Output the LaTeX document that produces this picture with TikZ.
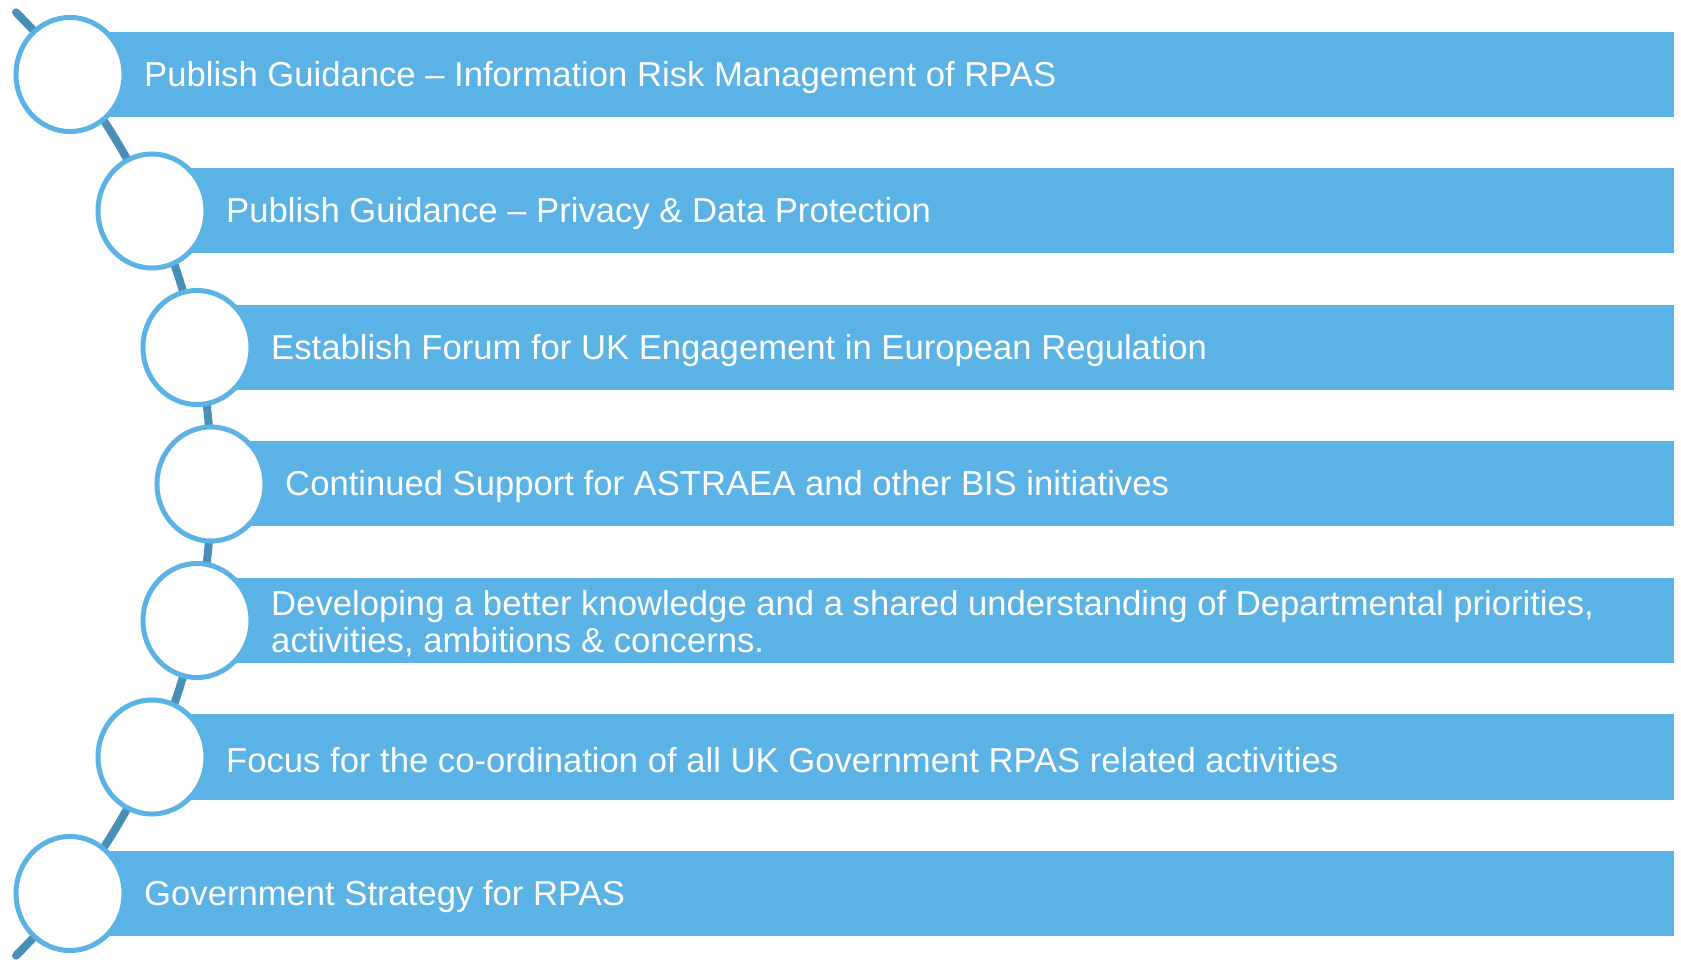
\documentclass[tikz,border=0pt]{standalone}
\usepackage{fontspec}
\setmainfont{Liberation Sans}
\usetikzlibrary{positioning,shapes.geometric}
\definecolor{rpasblue}{RGB}{91,178,229}
\definecolor{rpasdark}{RGB}{72,143,184}

\tikzset{
  stage/.style={ellipse,draw=rpasblue,fill=white,line width=0.05cm,minimum width=1.08cm,minimum height=1.14cm,inner sep=0pt},
  bar/.style={fill=rpasblue},
  stagetext/.style={text=white,inner sep=0pt,align=left,yshift=-0.03cm,font=\fontsize{9.85}{10.5}\selectfont},
}

\begin{document}
\begin{tikzpicture}[x=0.01cm,y=0.01cm]
\useasboundingbox (0,0) rectangle (1681,963);
% the spine behind the circles
\coordinate (hub) at (-455.6,479);
\draw[rpasdark,line width=0.08cm,line cap=round] (hub) ++(-45:6.666cm) arc[start angle=-45,end angle=45,radius=6.666cm];
% bars
\fill[bar] (70,846) rectangle (1674,931);
\fill[bar] (152,709.5) rectangle (1674,794.5);
\fill[bar] (197,573) rectangle (1674,658);
\fill[bar] (211,436.5) rectangle (1674,521.5);
\fill[bar] (197,300) rectangle (1674,385);
\fill[bar] (152,163.5) rectangle (1674,248.5);
\fill[bar] (70,27) rectangle (1674,112);
% circles
\node[stage] (s1) at (70,888.5) {};
\node[stage] (s2) at (152,752) {};
\node[stage] (s3) at (197,615.5) {};
\node[stage] (s4) at (211,479) {};
\node[stage] (s5) at (197,342.5) {};
\node[stage] (s6) at (152,206) {};
\node[stage] (s7) at (70,69.5) {};
% texts
\node[stagetext,right=0.17cm of s1] (t1) {Publish Guidance -- Information Risk Management of RPAS};
\node[stagetext,right=0.17cm of s2] (t2) {Publish Guidance -- Privacy \& Data Protection};
\node[stagetext,right=0.17cm of s3] (t3) {Establish Forum for UK Engagement in European Regulation};
\node[stagetext,right=0.17cm of s4] (t4) {Continued Support for ASTRAEA and other BIS initiatives};
\node[stagetext,right=0.17cm of s5] (t5) {Developing a better knowledge and a shared understanding of Departmental priorities,\\activities, ambitions \& concerns.};
\node[stagetext,right=0.17cm of s6] (t6) {Focus for the co-ordination of all UK Government RPAS related activities};
\node[stagetext,right=0.17cm of s7] (t7) {Government Strategy for RPAS};
\end{tikzpicture}
\end{document}
